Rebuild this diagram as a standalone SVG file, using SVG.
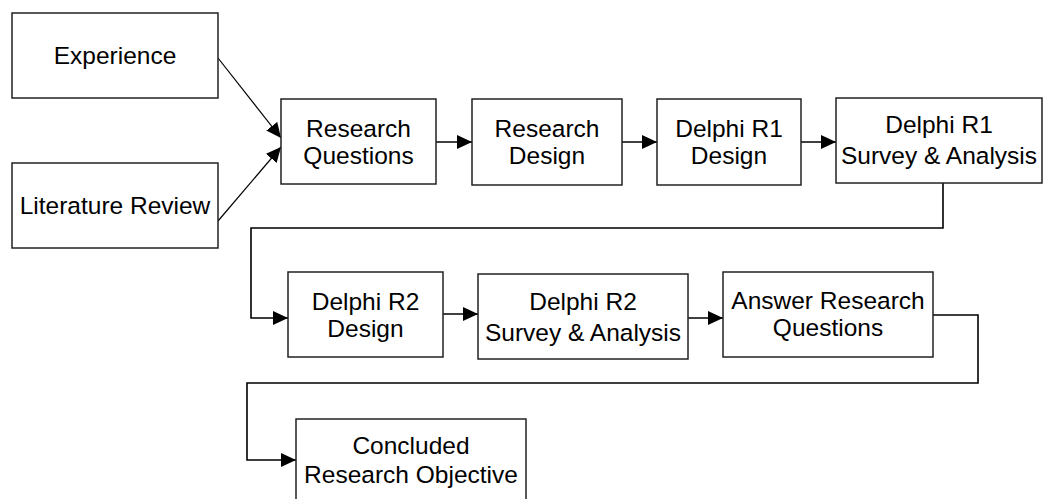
<svg xmlns="http://www.w3.org/2000/svg" width="1045" height="499" viewBox="0 0 1045 499">
<defs>
<style>
.box{fill:#fff;stroke:#222;stroke-width:1.5}
.t{font-family:"Liberation Sans",Arial,sans-serif;font-size:24.5px;fill:#000;text-anchor:middle}
.c{fill:none;stroke:#000;stroke-width:1.6}
.d{fill:none;stroke:#000;stroke-width:1.2}
</style>
<marker id="ah" viewBox="0 0 15 14" refX="15" refY="7" markerWidth="15" markerHeight="14" markerUnits="userSpaceOnUse" orient="auto">
<path d="M0,0 L15,7 L0,14 Z" fill="#000"/>
</marker>
</defs>
<rect width="1045" height="499" fill="#fff"/>
<g id="connectors">
<line class="d" x1="218" y1="58" x2="281" y2="138" marker-end="url(#ah)"/>
<line class="d" x1="218" y1="221" x2="281" y2="147" marker-end="url(#ah)"/>
<line class="c" x1="436" y1="142" x2="472" y2="142" marker-end="url(#ah)"/>
<line class="c" x1="622" y1="142" x2="657" y2="142" marker-end="url(#ah)"/>
<line class="c" x1="801" y1="142" x2="836" y2="142" marker-end="url(#ah)"/>
<polyline class="c" points="943,183 943,228 251,228 251,318 288,318" marker-end="url(#ah)"/>
<line class="c" x1="443" y1="314" x2="478" y2="314" marker-end="url(#ah)"/>
<line class="c" x1="688" y1="318" x2="723" y2="318" marker-end="url(#ah)"/>
<polyline class="c" points="933,315 978,315 978,383 247,383 247,460 296,460" marker-end="url(#ah)"/>
</g>
<g id="experience">
<rect class="box" x="12" y="13" width="206" height="85"/>
<text class="t" x="115" y="64">Experience</text>
</g>
<g id="literature-review">
<rect class="box" x="12" y="163" width="206" height="85"/>
<text class="t" x="115" y="214">Literature Review</text>
</g>
<g id="research-questions">
<rect class="box" x="281" y="99" width="155" height="85"/>
<text class="t" x="358.5" y="137">Research</text>
<text class="t" x="358.5" y="164">Questions</text>
</g>
<g id="research-design">
<rect class="box" x="472" y="99" width="150" height="86"/>
<text class="t" x="547" y="137">Research</text>
<text class="t" x="547" y="164">Design</text>
</g>
<g id="delphi-r1-design">
<rect class="box" x="657" y="99" width="144" height="86"/>
<text class="t" x="729" y="137">Delphi R1</text>
<text class="t" x="729" y="164">Design</text>
</g>
<g id="delphi-r1-survey">
<rect class="box" x="836" y="98" width="206" height="85"/>
<text class="t" x="939" y="133">Delphi R1</text>
<text class="t" x="939" y="164">Survey &amp; Analysis</text>
</g>
<g id="delphi-r2-design">
<rect class="box" x="288" y="272" width="155" height="85"/>
<text class="t" x="365.5" y="310">Delphi R2</text>
<text class="t" x="365.5" y="337">Design</text>
</g>
<g id="delphi-r2-survey">
<rect class="box" x="478" y="274" width="210" height="85"/>
<text class="t" x="583" y="310">Delphi R2</text>
<text class="t" x="583" y="341">Survey &amp; Analysis</text>
</g>
<g id="answer-research-questions">
<rect class="box" x="723" y="272" width="210" height="85"/>
<text class="t" x="828" y="309">Answer Research</text>
<text class="t" x="828" y="336">Questions</text>
</g>
<g id="concluded-research-objective">
<rect class="box" x="296" y="419" width="230" height="88"/>
<text class="t" x="411" y="454">Concluded</text>
<text class="t" x="411" y="483">Research Objective</text>
</g>
</svg>
